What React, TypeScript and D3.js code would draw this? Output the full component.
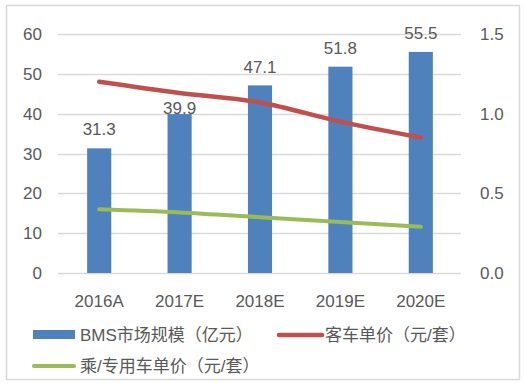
import * as d3 from 'd3';

// BMS market size (亿元) and unit prices (元/套)
const YEARS = ['2016A', '2017E', '2018E', '2019E', '2020E'];
const BMS_SIZE = [31.3, 39.9, 47.1, 51.8, 55.5];
const BUS_PRICE = [1.2, 1.13, 1.07, 0.95, 0.85];
const CAR_PRICE = [0.4, 0.38, 0.35, 0.32, 0.29];
const LEFT_TICKS = [0, 10, 20, 30, 40, 50, 60];
const RIGHT_TICKS = [0, 0.5, 1.0, 1.5];
const LEGEND = ['BMS市场规模（亿元）', '客车单价（元/套）', '乘/专用车单价（元/套）'];

const W = 524;
const H = 386;
const BLUE = '#4F81BD';
const RED = '#C0504D';
const GREEN = '#9BBB59';
const TEXT = '#595959';
const GRID = '#D9D9D9';
const FONT = '"Liberation Sans", "Noto Sans CJK SC", sans-serif';

export default function App() {
  const x = d3.scaleBand().domain(YEARS).range([59, 461]).paddingInner(0.7).paddingOuter(0.35);
  const yL = d3.scaleLinear().domain([0, 60]).range([273, 34]);
  const yR = d3.scaleLinear().domain([0, 1.5]).range([273, 34]);
  const cx = (d: string) => (x(d) as number) + x.bandwidth() / 2;

  const line = d3.line<number>()
    .x((_, i) => cx(YEARS[i]))
    .y(d => yR(d))
    .curve(d3.curveMonotoneX);

  // put the label right on the bar when the red line would cross it
  const labelY = (v: number, i: number) => {
    const top = yL(v);
    const y = top - 19;
    const lineY = yR(BUS_PRICE[i]);
    return Math.abs(y - lineY) < 10 ? top - 6 : y;
  };

  return (
    <svg width={W} height={H} style={{ position: 'absolute', left: 0, top: 0 }} fontFamily={FONT}>
      <rect x={0} y={0} width={W} height={H} fill="white" />
      <rect x={6.5} y={5.5} width={513} height={374} fill="white" stroke={GRID} strokeWidth={1.5} />

      {LEFT_TICKS.map(t => (
        <g key={t}>
          <line x1={58} x2={461} y1={Math.round(yL(t)) + 0.5} y2={Math.round(yL(t)) + 0.5} stroke={GRID} strokeWidth={1.5} />
          <text x={42} y={yL(t)} dy="0.36em" textAnchor="end" fontSize={17} fill={TEXT}>{t}</text>
        </g>
      ))}
      {RIGHT_TICKS.map(t => (
        <text key={t} x={480} y={yR(t)} dy="0.36em" textAnchor="start" fontSize={17} fill={TEXT}>{t.toFixed(1)}</text>
      ))}

      {YEARS.map((yr, i) => (
        <rect key={yr} x={x(yr)} y={yL(BMS_SIZE[i])} width={x.bandwidth()} height={yL(0) - yL(BMS_SIZE[i])} fill={BLUE} />
      ))}

      <path d={line(BUS_PRICE) || ''} fill="none" stroke={RED} strokeWidth={4.5} strokeLinecap="round" />
      <path d={line(CAR_PRICE) || ''} fill="none" stroke={GREEN} strokeWidth={4} strokeLinecap="round" />

      {YEARS.map((yr, i) => (
        <text key={yr} x={cx(yr)} y={labelY(BMS_SIZE[i], i)} dy="0.36em" textAnchor="middle" fontSize={17} fill={TEXT}>
          {BMS_SIZE[i]}
        </text>
      ))}

      {YEARS.map(yr => (
        <text key={yr} x={cx(yr)} y={307} textAnchor="middle" fontSize={17} fill={TEXT}>{yr}</text>
      ))}

      <rect x={33} y={330} width={42} height={9} fill={BLUE} />
      <text x={80} y={335} dy="0.36em" fontSize={17} fill={TEXT}>{LEGEND[0]}</text>
      <line x1={279} x2={322} y1={335} y2={335} stroke={RED} strokeWidth={4.5} strokeLinecap="round" />
      <text x={325} y={335} dy="0.36em" fontSize={17} fill={TEXT}>{LEGEND[1]}</text>
      <line x1={34} x2={74} y1={366} y2={366} stroke={GREEN} strokeWidth={4} strokeLinecap="round" />
      <text x={80} y={366} dy="0.36em" fontSize={17} fill={TEXT}>{LEGEND[2]}</text>
    </svg>
  );
}
